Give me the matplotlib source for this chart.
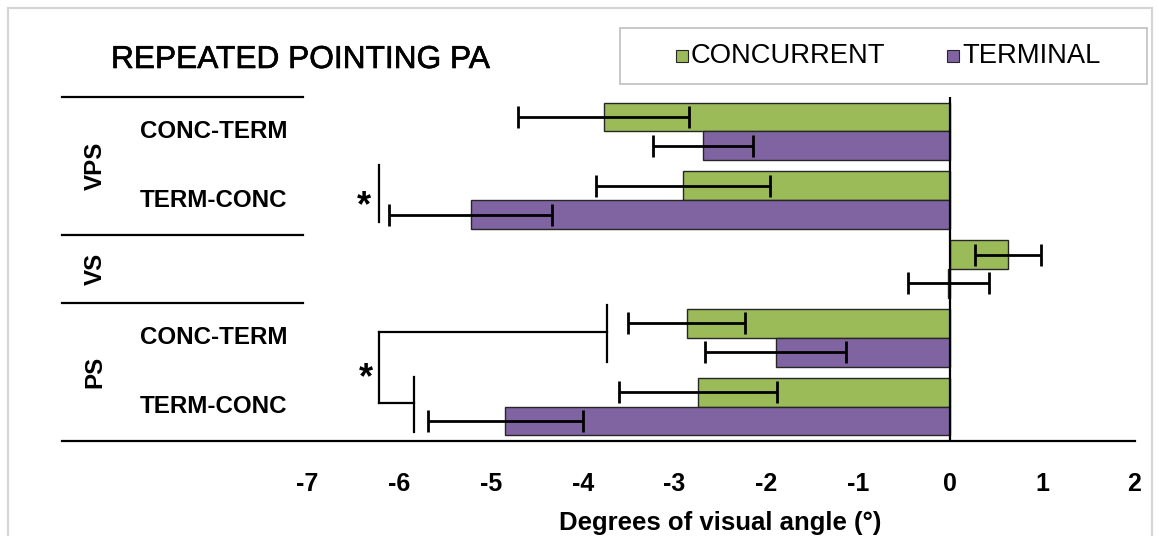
import matplotlib
matplotlib.use("Agg")
import matplotlib.pyplot as plt
import matplotlib.patheffects as pe
from matplotlib.patches import Rectangle
from matplotlib.lines import Line2D
import numpy as np

# ---- data -------------------------------------------------------------
groups = ["VPS", "VS", "PS"]
rows = ["CONC-TERM", "TERM-CONC", "", "CONC-TERM", "TERM-CONC"]

concurrent = [-3.77, -2.91, 0.63, -2.87, -2.75]
concurrent_err = [0.93, 0.95, 0.36, 0.64, 0.86]
terminal = [-2.69, -5.22, -0.02, -1.90, -4.84]
terminal_err = [0.54, 0.89, 0.44, 0.77, 0.84]

xticks = [-7, -6, -5, -4, -3, -2, -1, 0, 1, 2]

GREEN = "#9BBB59"
PURPLE = "#8064A2"

W, H = 1159, 536
fig = plt.figure(figsize=(W / 100, H / 100), dpi=100)

def fx(px):
    return px / W

def fy(py):
    return 1 - py / H

SANS = ["Liberation Sans", "DejaVu Sans"]

# chart-area border
fig.patches.append(Rectangle((fx(8), fy(560)), fx(1152) - fx(8), fy(8) - fy(560),
                             transform=fig.transFigure, fill=False,
                             edgecolor="#d4d4d4", lw=1.5))

ax = fig.add_axes([fx(307), fy(441), fx(1134) - fx(307), fy(97) - fy(441)])
pos = np.arange(len(rows))
h = 0.42
err_kw = dict(ecolor="black", elinewidth=2, capsize=8, capthick=2)
ax.barh(pos - h / 2, concurrent, height=h, color=GREEN, edgecolor="#262626", lw=1.0,
        xerr=concurrent_err, error_kw=err_kw)
ax.barh(pos + h / 2, terminal, height=h, color=PURPLE, edgecolor="#262626", lw=1.0,
        xerr=terminal_err, error_kw=err_kw)
ax.axvline(0, color="black", lw=1.6, zorder=5)

ax.set_xlim(-7, 2)
ax.set_ylim(len(rows) - 0.5, -0.5)
for s in ax.spines.values():
    s.set_visible(False)
ax.set_yticks([])
ax.set_xticks(xticks)
ax.set_xticklabels([str(t) for t in xticks])
ax.tick_params(axis="x", length=0, pad=22)
for lab in ax.get_xticklabels():
    lab.set_family(SANS)
    lab.set_fontweight("bold")
    lab.set_fontsize(18)
ax.set_xlabel("Degrees of visual angle (°)", family=SANS, fontweight="bold", fontsize=18.5)
ax.xaxis.set_label_coords(0.5, -0.238)
ax.xaxis.label.set_va("center")

# category table on the left
tr = matplotlib.transforms.blended_transform_factory(fig.transFigure, ax.transData)
for yb in [-0.5, 1.5, 2.5]:
    fig.lines.append(Line2D([fx(62), fx(303)], [ax.transData.transform((0, yb))[1] / H] * 2,
                            transform=fig.transFigure, color="black", lw=1.6))
ybot = ax.transData.transform((0, 4.5))[1] / H
fig.lines.append(Line2D([fx(62), fx(1135)], [ybot, ybot], transform=fig.transFigure,
                        color="black", lw=1.6))

group_centers = [0.5, 2.0, 3.5]
for g, yc in zip(groups, group_centers):
    ax.text(fx(95), yc, g, transform=tr, rotation=90, ha="center", va="center",
            family=SANS, fontweight="bold", fontsize=17.4)
for i, r in enumerate(rows):
    if r:
        ax.text(fx(214), i, r, transform=tr, ha="center", va="center",
                family=SANS, fontweight="bold", fontsize=17.4)

# significance markers
sig_kw = dict(color="black", lw=1.6, clip_on=False)
star_kw = dict(ha="center", va="center", fontsize=26, family=SANS, fontweight="bold")
ax.plot([-6.22, -6.22], [0.49, 1.32], **sig_kw)
ax.text(-6.38, 1.1, "*", **star_kw)
ax.plot([-3.74, -3.74], [2.52, 3.35], **sig_kw)
ax.plot([-6.22, -3.74], [2.92, 2.92], **sig_kw)
ax.plot([-6.22, -6.22], [2.92, 3.95], **sig_kw)
ax.plot([-6.22, -5.84], [3.95, 3.95], **sig_kw)
ax.plot([-5.84, -5.84], [3.57, 4.37], **sig_kw)
ax.text(-6.36, 3.6, "*", **star_kw)

# title
fig.text(fx(111), fy(60), "REPEATED POINTING PA", ha="left", va="center",
         family=SANS, fontsize=22.8,
         path_effects=[pe.withStroke(linewidth=0.45, foreground="black")])

# legend box
fig.patches.append(Rectangle((fx(620), fy(84)), fx(1147) - fx(620), fy(28) - fy(84),
                             transform=fig.transFigure, fill=False,
                             edgecolor="#bfbfbf", lw=1.2))
for x0, col, name in [(676, GREEN, "CONCURRENT"), (947, PURPLE, "TERMINAL")]:
    fig.patches.append(Rectangle((fx(x0), fy(62)), fx(12), 12 / H,
                                 transform=fig.transFigure, facecolor=col,
                                 edgecolor="#262626", lw=0.8))
    fig.text(fx(x0 + 15), fy(56), name, ha="left", va="center", family=SANS, fontsize=19.7)

fig.savefig("out.png", dpi=100)
